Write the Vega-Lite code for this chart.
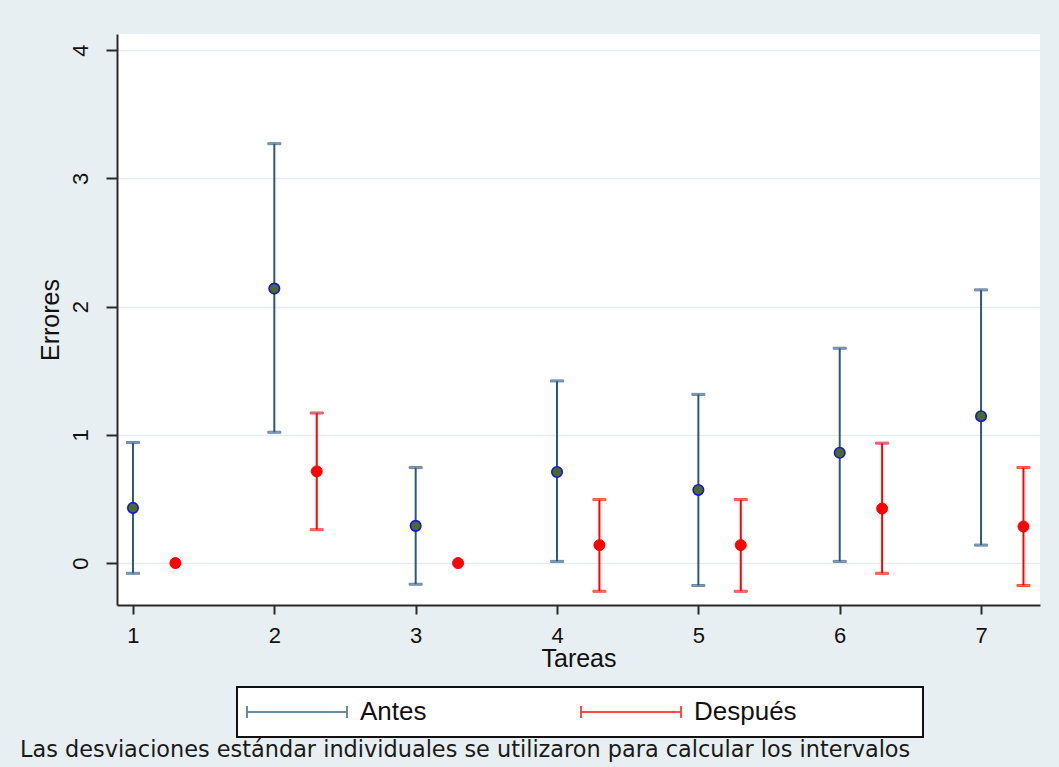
{
  "$schema": "https://vega.github.io/schema/vega-lite/v6.json",
  "width": 923,
  "height": 571,
  "autosize": {"type": "none"},
  "padding": {"left": 117, "top": 34, "right": 19, "bottom": 162},
  "background": "#e8eff2",
  "title": {
    "text": "Las desviaciones estándar individuales se utilizaron para calcular los intervalos",
    "orient": "bottom",
    "anchor": "start",
    "frame": "group",
    "offset": 1,
    "dx": -97,
    "font": "DejaVu Sans",
    "fontSize": 22.4,
    "fontWeight": "normal",
    "color": "#1a1a1a"
  },
  "config": {
    "view": {"fill": "white", "stroke": null},
    "axis": {
      "labelFont": "Liberation Sans",
      "titleFont": "Liberation Sans",
      "labelFontSize": 22,
      "titleFontSize": 25,
      "titleFontWeight": "normal",
      "labelColor": "#111111",
      "titleColor": "#111111",
      "domainColor": "#2a2a2a",
      "domainWidth": 2,
      "tickColor": "#2a2a2a",
      "tickWidth": 2,
      "gridColor": "#e4edf2",
      "gridWidth": 1.5
    },
    "legend": {
      "orient": "none",
      "legendX": 120,
      "legendY": 653,
      "direction": "horizontal",
      "columns": 2,
      "gridAlign": "all",
      "columnPadding": 0,
      "padding": 12,
      "fillColor": "white",
      "strokeColor": "#111111",
      "strokeWidth": 2,
      "labelFont": "Liberation Sans",
      "labelFontSize": 26,
      "labelColor": "#111111",
      "labelOffset": 50,
      "labelLimit": 400,
      "symbolType": "M-5,0H5M-5,-0.6V0.6M5,-0.6V0.6",
      "symbolSize": 400,
      "symbolOffset": 35,
      "symbolStrokeWidth": 2,
      "symbolFillColor": "transparent"
    }
  },
  "data": {
    "values": [
      {"tarea": 1, "serie": "Antes", "x": 1, "media": 0.43, "lo": -0.08, "hi": 0.94},
      {"tarea": 2, "serie": "Antes", "x": 2, "media": 2.14, "lo": 1.02, "hi": 3.27},
      {"tarea": 3, "serie": "Antes", "x": 3, "media": 0.29, "lo": -0.165, "hi": 0.745},
      {"tarea": 4, "serie": "Antes", "x": 4, "media": 0.71, "lo": 0.013, "hi": 1.42},
      {"tarea": 5, "serie": "Antes", "x": 5, "media": 0.57, "lo": -0.175, "hi": 1.315},
      {"tarea": 6, "serie": "Antes", "x": 6, "media": 0.86, "lo": 0.013, "hi": 1.675},
      {"tarea": 7, "serie": "Antes", "x": 7, "media": 1.145, "lo": 0.14, "hi": 2.13},
      {"tarea": 1, "serie": "Después", "x": 1.3, "media": 0, "lo": 0, "hi": 0},
      {"tarea": 2, "serie": "Después", "x": 2.3, "media": 0.715, "lo": 0.26, "hi": 1.17},
      {"tarea": 3, "serie": "Después", "x": 3.3, "media": 0, "lo": 0, "hi": 0},
      {"tarea": 4, "serie": "Después", "x": 4.3, "media": 0.14, "lo": -0.22, "hi": 0.495},
      {"tarea": 5, "serie": "Después", "x": 5.3, "media": 0.14, "lo": -0.22, "hi": 0.495},
      {"tarea": 6, "serie": "Después", "x": 6.3, "media": 0.425, "lo": -0.08, "hi": 0.935},
      {"tarea": 7, "serie": "Después", "x": 7.3, "media": 0.285, "lo": -0.175, "hi": 0.745}
    ]
  },
  "encoding": {
    "x": {
      "field": "x",
      "type": "quantitative",
      "scale": {"domain": [0.887, 7.417], "nice": false, "zero": false},
      "axis": {
        "values": [1, 2, 3, 4, 5, 6, 7],
        "format": "d",
        "title": "Tareas",
        "grid": false,
        "tickSize": 9,
        "labelPadding": 11,
        "titlePadding": 0
      }
    }
  },
  "layer": [
    {
      "mark": {"type": "rule", "strokeWidth": 2},
      "encoding": {
        "y": {
          "field": "lo",
          "type": "quantitative",
          "scale": {"domain": [-0.327, 4.125], "nice": false, "zero": false},
          "axis": {
            "values": [0, 1, 2, 3, 4],
            "format": "d",
            "title": "Errores",
            "grid": true,
            "tickSize": 11,
            "labelAngle": -90,
            "labelAlign": "center",
            "labelBaseline": "bottom",
            "labelPadding": 14,
            "titlePadding": 6
          }
        },
        "y2": {"field": "hi"},
        "stroke": {
          "field": "serie",
          "type": "nominal",
          "scale": {"domain": ["Antes", "Después"], "range": ["#2f577c", "#ff0000"]},
          "legend": {"title": null, "labelExpr": "datum.label == 'Después' ? datum.label + '\u2800\u2800\u2800\u2800\u2800\u2800' : datum.label"}
        }
      }
    },
    {
      "transform": [{"filter": "datum.hi > datum.lo"}],
      "mark": {"type": "tick", "orient": "horizontal", "size": 13, "thickness": 2},
      "encoding": {
        "y": {"field": "lo", "type": "quantitative"},
        "stroke": {"field": "serie", "type": "nominal"}
      }
    },
    {
      "transform": [{"filter": "datum.hi > datum.lo"}],
      "mark": {"type": "tick", "orient": "horizontal", "size": 13, "thickness": 2},
      "encoding": {
        "y": {"field": "hi", "type": "quantitative"},
        "stroke": {"field": "serie", "type": "nominal"}
      }
    },
    {
      "transform": [{"filter": "datum.serie == 'Antes'"}],
      "mark": {"type": "point", "shape": "circle", "filled": true, "size": 110, "fill": "#4a6a2a", "stroke": "#1414e8", "strokeWidth": 1.6, "opacity": 1},
      "encoding": {
        "y": {"field": "media", "type": "quantitative"}
      }
    },
    {
      "transform": [{"filter": "datum.serie == 'Después'"}],
      "mark": {"type": "point", "shape": "circle", "filled": true, "size": 120, "fill": "#ff0000", "stroke": "#ff0000", "strokeWidth": 1, "opacity": 1},
      "encoding": {
        "y": {"field": "media", "type": "quantitative"}
      }
    }
  ]
}
